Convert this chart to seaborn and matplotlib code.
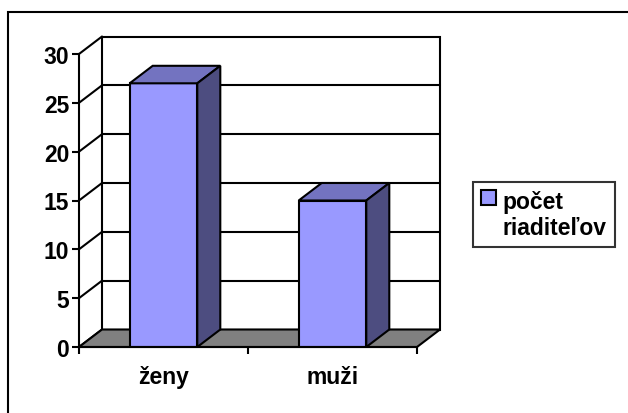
"""Excel-style 3D column chart: počet riaditeľov by gender."""

import matplotlib
matplotlib.use("Agg")
import matplotlib.pyplot as plt
import numpy as np
import seaborn as sns
from matplotlib.patches import Patch, Polygon, Rectangle

categories = ["ženy", "muži"]
values = [27, 15]
series_label = "počet\nriaditeľov"
y_ticks = [0, 5, 10, 15, 20, 25, 30]

FRONT = "#9999FF"
TOP = "#7373C0"
SIDE = "#4D4D80"
FLOOR = "#808080"
LW = 1.5
FS = 16.5

sns.set_style("white")
plt.rcParams["font.family"] = ["Liberation Sans", "DejaVu Sans"]
plt.rcParams["font.weight"] = "bold"
plt.rcParams["text.color"] = "black"
plt.rcParams["xtick.color"] = "black"
plt.rcParams["ytick.color"] = "black"

fig = plt.figure(figsize=(6.28, 4.14), dpi=100)
ax = fig.add_axes([79 / 628, (414 - 348) / 414, 338 / 628, 293 / 414])
ax.set_facecolor("none")

sns.barplot(x=categories, y=values, color=FRONT, saturation=1, width=0.4,
            edgecolor="black", linewidth=LW, ax=ax, zorder=5)
ax.set_xlim(-0.5, 1.5)
ax.set_ylim(y_ticks[0], y_ticks[-1])

# depth offset of the 3D box, in pixels -> data units
p0 = ax.transData.transform((0, 0))
ddx, ddy = ax.transData.inverted().transform(p0 + np.array([23, 17.5]))
x0, x1 = ax.get_xlim()

# back wall with gridlines
ax.add_patch(Rectangle((x0 + ddx, ddy), x1 - x0, y_ticks[-1], fc="white", ec="black",
                       lw=LW, clip_on=False, zorder=0.5))
for t in y_ticks:
    if 0 < t < y_ticks[-1]:
        ax.plot([x0 + ddx, x1 + ddx], [t + ddy, t + ddy], color="black", lw=LW,
                clip_on=False, zorder=1)
    ax.plot([x0, x0 + ddx], [t, t + ddy], color="black", lw=LW, clip_on=False, zorder=1)

# floor
ax.add_patch(Polygon([(x0, 0), (x1, 0), (x1 + ddx, ddy), (x0 + ddx, ddy)], closed=True,
                     fc=FLOOR, ec="black", lw=LW, clip_on=False, zorder=2))

# top and side faces of the bars
for bar in list(ax.patches):
    if not isinstance(bar, Rectangle) or bar.get_facecolor()[:3] != matplotlib.colors.to_rgb(FRONT):
        continue
    bx, bw, bh = bar.get_x(), bar.get_width(), bar.get_height()
    top = [(bx, bh), (bx + bw, bh), (bx + bw + ddx, bh + ddy), (bx + ddx, bh + ddy)]
    side = [(bx + bw, 0), (bx + bw + ddx, ddy), (bx + bw + ddx, bh + ddy), (bx + bw, bh)]
    ax.add_patch(Polygon(top, closed=True, fc=TOP, ec="black", lw=LW, clip_on=False, zorder=5))
    ax.add_patch(Polygon(side, closed=True, fc=SIDE, ec="black", lw=LW, clip_on=False, zorder=5))

# axes and ticks
sns.despine(ax=ax, top=True, right=True)
for side_name in ["left", "bottom"]:
    ax.spines[side_name].set_linewidth(LW)
    ax.spines[side_name].set_color("black")
    ax.spines[side_name].set_zorder(6)
ax.set_yticks(y_ticks)
ax.set_yticklabels([str(t) for t in y_ticks], fontweight="bold")
ax.set_xticks(range(len(categories)))
ax.set_xticklabels(categories, fontweight="bold")
ax.set_xticks([x0, 0.5, x1], minor=True)
ax.tick_params(axis="y", which="major", direction="out", length=5, width=LW,
               left=True, labelsize=FS, pad=2)
ax.tick_params(axis="x", which="major", length=0, labelsize=FS, pad=13)
ax.tick_params(axis="x", which="minor", direction="out", length=5, width=LW, bottom=True)
ax.set_xlabel("")
ax.set_ylabel("")

# legend
leg = fig.legend(handles=[Patch(fc=FRONT, ec="black", lw=LW)], labels=[series_label],
                 loc="center", bbox_to_anchor=(544 / 628, 1 - 215.5 / 414),
                 prop={"size": FS, "weight": "bold"}, frameon=True, fancybox=False,
                 edgecolor="black", handlelength=0.65, handleheight=0.65,
                 handletextpad=0.3, borderpad=0.35, labelspacing=0.2)
leg.get_frame().set_linewidth(LW)
# put the marker next to the first line of the label, as Excel does
for column in leg._legend_handle_box.get_children():
    for item in column.get_children():
        item.align = "top"

# outer chart border
fig.add_artist(Rectangle((8 / 628, -0.1), 2, (414 - 13) / 414 + 0.1,
                         transform=fig.transFigure, fill=False, ec="black", lw=LW))

fig.savefig("out.png", dpi=100)
